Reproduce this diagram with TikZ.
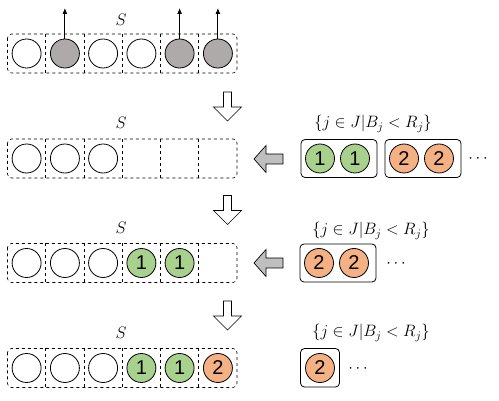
\documentclass[tikz,border=0pt]{standalone}
\usepackage{fix-cm}
\usepackage{fontspec}
\newfontfamily\numfont{Liberation Sans}
\usetikzlibrary{arrows.meta}
\definecolor{slotgray}{HTML}{AEAAAA}
\definecolor{arrgray}{HTML}{BFBFBF}
\definecolor{jobgreen}{HTML}{A9D18E}
\definecolor{joborange}{HTML}{F4B183}
\newcommand{\bigmath}{\fontsize{16.5}{19}\selectfont}
\tikzset{
  rowbox/.style={draw, dashed, rounded corners=4pt, line width=0.6pt},
  divider/.style={draw, dashed, line width=0.6pt},
  slot/.style={circle, draw, line width=0.8pt, minimum size=29pt, inner sep=0pt, font=\numfont\fontsize{20}{20}\selectfont},
  emptyslot/.style={slot, fill=white},
  grayslot/.style={slot, fill=slotgray},
  greenslot/.style={slot, fill=jobgreen},
  orangeslot/.style={slot, fill=joborange},
  candbox/.style={draw, rounded corners=4pt, line width=0.8pt},
  blockarrow/.style={draw, line width=0.7pt, line join=miter},
  lbl/.style={inner sep=0pt},
  dots/.style={inner sep=0pt},
  removal/.style={-{Latex[length=6pt,width=5pt]}, line width=0.9pt}
}
\begin{document}
\begin{tikzpicture}[x=1pt,y=-1pt]
\useasboundingbox (0,0) rectangle (499,401);
% ---------- row boxes ----------
\foreach \c [count=\r] in {53.5,158.5,263,368}{
  \draw[rowbox] (7.5,\c-19.5) rectangle (237,\c+19.5);
  \foreach \k in {1,...,5}{
    \draw[divider] ({7.5+38.25*\k},\c-19.5) -- ({7.5+38.25*\k},\c+19.5);
  }
}
% S labels
\node[lbl] (s1) at (121,20) {\bigmath$S$};
\node[lbl] (s2) at (121,123) {\bigmath$S$};
\node[lbl] (s3) at (121,228) {\bigmath$S$};
\node[lbl] (s4) at (121,333) {\bigmath$S$};
% ---------- row 1 ----------
\node[emptyslot] (a1) at (26.6,53.5) {};
\node[grayslot]  (a2) at (64.9,53.5) {};
\node[emptyslot] (a3) at (103.1,53.5) {};
\node[emptyslot] (a4) at (141.4,53.5) {};
\node[grayslot]  (a5) at (179.6,53.5) {};
\node[grayslot]  (a6) at (217.9,53.5) {};
\coordinate (u2) at (64.9,8);
\coordinate (u5) at (179.6,8);
\coordinate (u6) at (217.9,8);
\draw[removal] (a2.north) -- (u2);
\draw[removal] (a5.north) -- (u5);
\draw[removal] (a6.north) -- (u6);
% ---------- row 2 ----------
\node[emptyslot] (b1) at (26.6,158.5) {};
\node[emptyslot] (b2) at (64.9,158.5) {};
\node[emptyslot] (b3) at (103.1,158.5) {};
\node[lbl] (q2) at (373,124) {\bigmath$\{j\in J|B_j<R_j\}$};
\draw[candbox] (301,139.5) rectangle (377,177.5);
\node[greenslot] (c1) at (320,158.5) {1};
\node[greenslot] (c2) at (355,158.5) {1};
\draw[candbox] (385,139.5) rectangle (461,177.5);
\node[orangeslot] (c3) at (404,158.5) {2};
\node[orangeslot] (c4) at (439,158.5) {2};
\node[dots] (d2) at (478,159) {\bigmath$\cdots$};
% ---------- row 3 ----------
\node[emptyslot] (e1) at (26.6,263) {};
\node[emptyslot] (e2) at (64.9,263) {};
\node[emptyslot] (e3) at (103.1,263) {};
\node[greenslot] (e4) at (141.4,263) {1};
\node[greenslot] (e5) at (179.6,263) {1};
\node[lbl] (q3) at (371,231) {\bigmath$\{j\in J|B_j<R_j\}$};
\draw[candbox] (300,244) rectangle (376,282);
\node[orangeslot] (f1) at (319,263) {2};
\node[orangeslot] (f2) at (354,263) {2};
\node[dots] (d3) at (396,263.5) {\bigmath$\cdots$};
% ---------- row 4 ----------
\node[emptyslot] (g1) at (26.6,368) {};
\node[emptyslot] (g2) at (64.9,368) {};
\node[emptyslot] (g3) at (103.1,368) {};
\node[greenslot] (g4) at (141.4,368) {1};
\node[greenslot] (g5) at (179.6,368) {1};
\node[orangeslot] (g6) at (217.9,368) {2};
\node[lbl] (q4) at (371,333) {\bigmath$\{j\in J|B_j<R_j\}$};
\draw[candbox] (300.5,348.5) rectangle (339.5,387);
\node[orangeslot] (h1) at (320,368) {2};
\node[dots] (d4) at (358,368.5) {\bigmath$\cdots$};
% ---------- down arrows ----------
\foreach \t in {92,195.5,301}{
  \draw[blockarrow, fill=white] (223.5,\t) -- (231.5,\t) -- (231.5,\t+15) -- (241.5,\t+15)
     -- (227.5,\t+29) -- (213.5,\t+15) -- (223.5,\t+15) -- cycle;
}
% ---------- left arrows ----------
\foreach \c in {159,263}{
  \draw[blockarrow, fill=arrgray] (254,\c) -- (266,\c-13.5) -- (266,\c-5) -- (283,\c-5)
     -- (283,\c+5) -- (266,\c+5) -- (266,\c+13.5) -- cycle;
}
\end{tikzpicture}
\end{document}
